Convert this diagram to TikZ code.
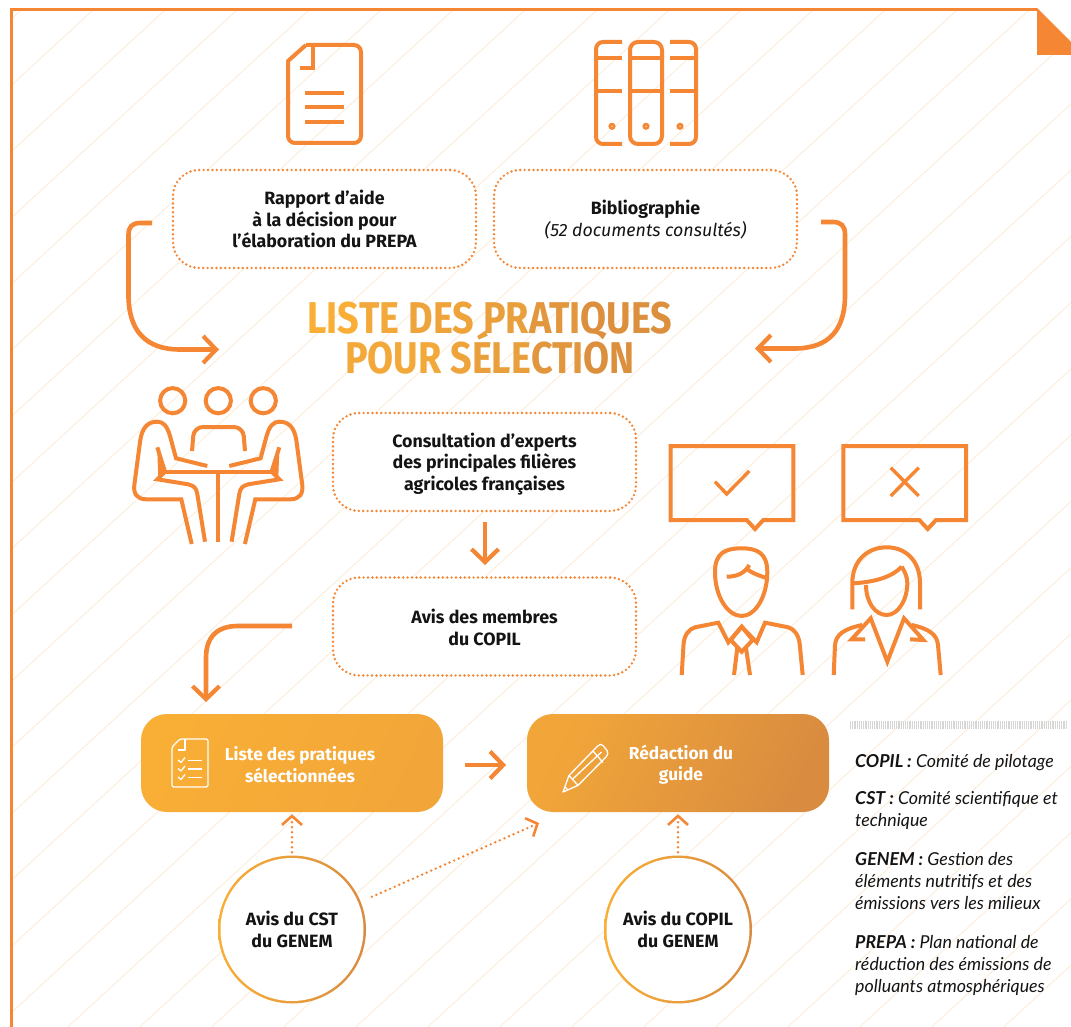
\documentclass[tikz,border=0pt]{standalone}
\usepackage{fontspec}
\setmainfont{Fira Sans}
\newfontfamily\legf{Lato}
\newfontfamily\titf[FakeStretch=0.848]{Fira Sans}
\usetikzlibrary{arrows.meta,shadings}
\definecolor{org}{HTML}{F58634}
\definecolor{hatch}{HTML}{FDEBD6}
\definecolor{ink}{HTML}{141414}
\definecolor{ga}{HTML}{F9AE36}
\definecolor{gb}{HTML}{F2A639}
\definecolor{gc}{HTML}{D98C3F}
\colorlet{t1}{ga}
\definecolor{t2}{HTML}{F3A83A}
\definecolor{t3}{HTML}{EEA43B}
\definecolor{t4}{HTML}{E9A03C}
\definecolor{t5}{HTML}{E2963D}
\definecolor{t6}{HTML}{DC903E}
\tikzset{
 x=1pt,y=-1pt,
 icon/.style={draw=org,line width=4pt,line join=miter,fill=none},
 dotbox/.style={draw=org,fill=white,line width=2.7pt,line cap=round,dash pattern=on 0pt off 4.4pt,rounded corners=26pt,
   minimum width=303pt,minimum height=98pt,align=center,text=ink,font=\bfseries\fontsize{17.8}{21.5}\selectfont,inner sep=0pt},
 gradbox/.style={rounded corners=26pt,minimum width=302pt,minimum height=98pt,inner sep=0pt},
 whitetext/.style={text=white,align=center,font=\bfseries\fontsize{17.3}{21.5}\selectfont,inner sep=0pt},
 ring/.style={circle,minimum size=148pt,inner sep=0pt,left color=ga,right color=gc,draw=none},
 ringin/.style={circle,minimum size=143pt,inner sep=0pt,fill=white,align=center,text=ink,font=\bfseries\fontsize{17.8}{21.5}\selectfont},
 bigarrow/.style={draw=org,line width=4.6pt,-{Straight Barb[length=13pt,width=27pt,line width=4.2pt]}},
 dotarrow/.style={draw=org,line width=2.7pt,line cap=round,dash pattern=on 0pt off 5pt,-{Straight Barb[length=9pt,width=20pt,line width=2.6pt,line cap=butt]}},
 legend/.style={anchor=north west,inner sep=0pt,align=left,text=ink,font=\legf\itshape\fontsize{17.8}{22.2}\selectfont},
 whiteicon/.style={draw=white,line width=1.3pt,line join=round,fill=none},
 titletext/.style={inner sep=0pt,anchor=base,font=\titf\bfseries\fontsize{44.5}{50}\selectfont},
}
\begin{document}
\begin{tikzpicture}
\useasboundingbox (0,0) rectangle (1071,1027);
\fill[white] (0,0) rectangle (1071,1027);
% hatching
\begin{scope}
\clip (13,11) rectangle (1071,1027);
\foreach \c in {32,104,...,2200}{
  \draw[hatch,line width=0.8pt] ({\c-9/0.92},9) -- ({\c-1027/0.92},1027);
}
\end{scope}
% frame and corner
\draw[org,line width=2.6pt] (11.3,1027) -- (11.3,9.3) -- (1037,9.3);
\fill[org] (1037,8) -- (1071,42) -- (1071,55) -- (1037,55) -- cycle;
% document icon
\draw[icon,rounded corners=7pt] (306,45) -- (361,45) -- (361,143) -- (288,143) -- (288,100);
\draw[icon,line join=round] (288,105) -- (288,61) -- (306,45);
\draw[icon] (313,45) -- (313,68) -- (300,68);
\foreach \y in {93.5,107.5,122}{\draw[icon] (305,\y) -- (344,\y);}
% binders
\draw[icon,rounded corners=7pt] (622,42) -- (596,42) -- (596,144) -- (622,144);
\draw[icon,rounded corners=8pt] (630,42) rectangle (662,144);
\draw[icon,rounded corners=7pt] (670,42) -- (696,42) -- (696,144) -- (670,144);
\foreach \y in {58,91}{
  \draw[icon] (596,\y) -- (622,\y);
  \draw[icon] (630,\y) -- (662,\y);
  \draw[icon] (670,\y) -- (696,\y);
}
\foreach \x in {612,646,680}{\fill[org] (\x,126.3) circle (3.6pt); \fill[white] (\x,126.3) circle (0.7pt);}
% dotted boxes
\node[dotbox] (rap) at (324.5,219) {Rapport d’aide\\à la décision pour\\l’élaboration du PREPA};
\node[dotbox] (bib) at (645.5,219) {\rule{0pt}{16pt}Bibliographie\\{\mdseries\itshape (52 documents consultés)}};
\node[dotbox] (cons) at (484.5,462) {\rule{0pt}{18pt}Consultation d’experts\\des principales filières\\agricoles françaises};
\node[dotbox] (avis) at (484.5,626.5) {\rule{0pt}{16pt}Avis des membres\\du COPIL};
% title
\node[titletext] (titre1) at (490,333) {\textcolor{t1}{LIS}\textcolor{t2}{TE}\ \textcolor{t3}{DES}\ \textcolor{t4}{PR}\textcolor{t5}{ATI}\textcolor{t6}{QUES}};
\node[titletext] (titre2) at (490,373) {\textcolor{t2}{POUR}\ \textcolor{t3}{S}\textcolor{t4}{ÉLE}\textcolor{t5}{CTI}\textcolor{t6}{ON}};
% big arrows
\coordinate (a1s) at (152,223); \coordinate (a1e) at (219,349.5);
\draw[bigarrow] (a1s) -- (140,223) .. controls (132,223) and (128.5,227) .. (128.5,235) -- (128.5,295) .. controls (128.5,330) and (145,349.5) .. (180,349.5) -- (a1e);
\coordinate (a2s) at (821,222); \coordinate (a2e) at (755,348.5);
\draw[bigarrow] (a2s) -- (833,222) .. controls (841,222) and (845,226) .. (845,234) -- (845,295) .. controls (845,330) and (829,348.5) .. (794,348.5) -- (a2e);
\draw[bigarrow] (485,522) -- (485,565);
\coordinate (a4s) at (292,626); \coordinate (a4e) at (206,702);
\draw[bigarrow] (a4s) -- (238,626) .. controls (217,626) and (206,637) .. (206,658) -- (a4e);
% people icon
\foreach \x in {172.7,218.3,263.3}{\draw[icon] (\x,400.7) circle (12.6pt);}
\draw[icon,rounded corners=9pt] (192,451) -- (194,427) -- (243,427) -- (245,451);
\foreach \s in {1,-1}{
\begin{scope}[shift={(218.3,0)},xscale=\s]
  \draw[icon] (-11,466) -- (-42.3,458.3) -- (-48,437) .. controls (-51,426) and (-55,421.7) .. (-61,421.7)
     .. controls (-71,421.7) and (-76,428) .. (-78,440) -- (-84,485) .. controls (-85,494) and (-81,499.3) .. (-72,499.3) -- (-37,499.3) -- (-26.6,544);
  \draw[icon] (-61,447.3) -- (-53.3,471.7);
  \draw[icon] (-53.3,471.7) -- (-61,479.3) -- (-30,484.3) .. controls (-24,486) and (-22,488) .. (-21,494) -- (-13.3,541.7);
  \fill[org] (-61,450) -- (-52,471) -- (-60,478) -- cycle;
\end{scope}}
\draw[icon] (165,471.7) -- (272,471.7);
\draw[icon] (218.3,471.7) -- (218.3,541.7);
% bubbles
\draw[icon] (670.7,446) -- (793.3,446) -- (793.3,520) -- (763.3,520) -- (755,529) -- (746.7,520) -- (670.7,520) -- cycle;
\draw[icon,line width=3.4pt] (715,481.7) -- (726.7,494) -- (749.3,471);
\draw[icon] (843.3,446) -- (966,446) -- (966,520) -- (936,520) -- (927.7,529) -- (919.3,520) -- (843.3,520) -- cycle;
\draw[icon,line width=3.4pt] (890.7,467.7) -- (918.7,496) (918.7,467.7) -- (890.7,496);
% man
\draw[icon] (741.7,548.3) .. controls (725,548.3) and (715,553) .. (715,572)
   .. controls (715,597) and (728,616) .. (741.7,616)
   .. controls (755,616) and (767.3,597) .. (767.3,572)
   .. controls (767.3,553) and (757,548.3) .. (741.7,548.3) -- cycle;
\draw[icon] (726.7,576.7) .. controls (737,576.7) and (745,573) .. (749.3,565);
\draw[icon] (747.3,569.3) .. controls (752,573) and (760,576) .. (767.3,578.3);
\draw[icon] (681.7,675) -- (683.5,645) .. controls (684,635) and (689,629) .. (695,627.3) -- (718.3,622.7) -- (728.3,642.3) -- (741.7,626.7) -- (756.7,642.3) -- (765,622.7) -- (788.3,627.3) .. controls (794,629) and (799,635) .. (799.8,645) -- (802.7,675);
\draw[icon] (741.7,626.7) -- (752.7,640) -- (741.7,651.7) -- (730.7,640) -- cycle;
\draw[icon] (737.3,648) -- (734,675);
\draw[icon] (746,648) -- (750,675);
% woman
\draw[icon] (852.3,609.3) -- (852.3,583.3) .. controls (852.3,560) and (868,547.3) .. (886.7,547.3) .. controls (905,547.3) and (920,560) .. (920,583.3) -- (920,609.3);
\draw[icon] (853.3,583.3) .. controls (875,582) and (892,577) .. (901.7,566.7);
\draw[icon] (901.7,566.7) .. controls (905,572) and (907.3,577) .. (907.3,583.3) .. controls (907.3,600) and (898,615) .. (886.7,615) .. controls (875,615) and (866,602) .. (866,585);
\draw[icon] (833.7,675) -- (835,645) .. controls (836,635) and (843,629) .. (862.3,625);
\draw[icon] (865,639.3) -- (851.7,639.3) -- (870.7,618.3) -- (887.3,661.7) -- (904,618.3) -- (923.3,640) -- (910,639.3);
\draw[icon] (911.7,625) .. controls (930,629) and (937,635) .. (938,645) -- (940.7,675);
% gradient boxes
\node[gradbox,left color=ga,right color=gb,shading angle=65] (b1) at (292,763) {};
\node[gradbox,left color=gb,right color=gc,shading angle=65] (b2) at (678,763) {};
\node[whitetext] at (300,764.5) {Liste des pratiques\\sélectionnées};
\node[whitetext] at (681,764.5) {Rédaction du\\guide};
\draw[bigarrow] (465,765) -- (506,765);
% clipboard icon
\draw[whiteicon,rounded corners=1.5pt] (180,739) -- (208,739) -- (208,787) -- (172,787) -- (172,747) -- cycle;
\draw[whiteicon] (185,739) -- (185,750) -- (178,750);
\foreach \y in {760,768.5,777}{
  \draw[whiteicon] (178,\y) -- (181,{\y+2.5}) -- (185,{\y-2.5});
  \draw[whiteicon] (188,{\y+0.5}) -- (202,{\y+0.5});
}
% pencil icon
\draw[whiteicon] (563,792) -- (569,775.5) -- (598,745.7) .. controls (600,744) and (602,744) .. (603,745.5) -- (607,750.5) .. controls (608.5,753) and (608,755) .. (606,757) -- (578,785.4) -- cycle;
\draw[whiteicon] (572.7,779) -- (601.5,752);
\draw[whiteicon] (593,751) -- (603,762.5);
\draw[whiteicon] (569,775.5) -- (578,785.4);
\draw[whiteicon] (565,787) -- (568,790);
% circles
\node[ring] (cst) at (292,929.5) {};
\node[ringin] at (cst.center) {Avis du CST\\du GENEM};
\node[ring] (cop) at (678,929.5) {};
\node[ringin] at (cop.center) {Avis du COPIL\\du GENEM};
\draw[dotarrow,shorten <=3pt,shorten >=2pt] (cst.north) -- (b1.south -| cst.north);
\draw[dotarrow,shorten <=3pt,shorten >=2pt] (cop.north) -- (b2.south -| cop.north);
\coordinate (dend) at (539,823);
\draw[dotarrow,shorten <=12pt] (cst.22) -- (dend);
% separator
\draw[draw=black!16,line width=8pt,dash pattern=on 1.1pt off 1.1pt] (850,725) -- (1066,725);
% legend
\node[legend] (l1) at (855,754) {\textbf{COPIL :} Comité de pilotage};
\node[legend] (l2) at (855,791) {\textbf{CST :} Comité scientifique et\\technique};
\node[legend] (l3) at (855,852) {\textbf{GENEM :} Gestion des\\éléments nutritifs et des\\émissions vers les milieux};
\node[legend] (l4) at (855,935) {\textbf{PREPA :} Plan national de\\réduction des émissions de\\polluants atmosphériques};
\end{tikzpicture}
\end{document}
